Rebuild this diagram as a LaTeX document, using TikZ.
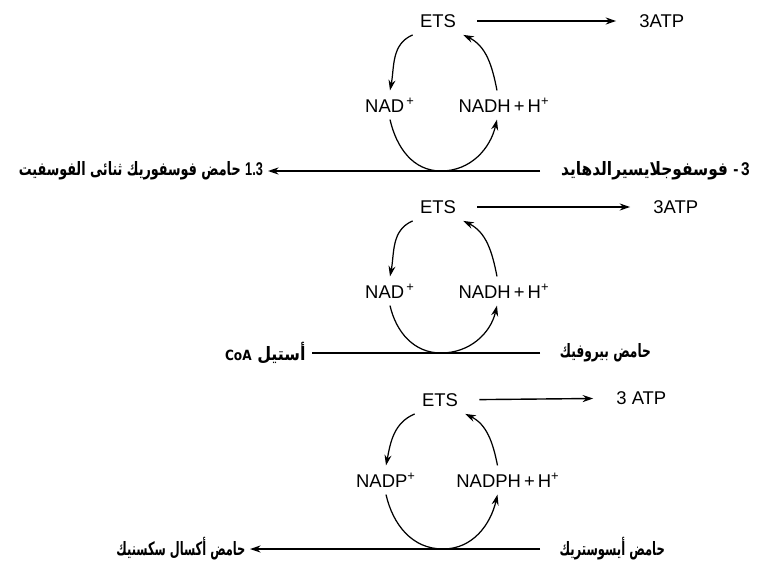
\documentclass[tikz,border=0pt]{standalone}
\usepackage{fontspec}
\setmainfont{Liberation Sans}
\newfontfamily\arabicfont[Script=Arabic]{DejaVu Sans}
\TeXXeTstate=1
\usetikzlibrary{arrows.meta}

\begin{document}
\begin{tikzpicture}[
  x=0.02cm, y=0.02cm,
  >={Stealth[length=6pt,width=4pt]},
  every node/.style={font=\fontsize{10.5}{12}\selectfont},
  lbl/.style={inner sep=4pt},
  ar/.style={font=\arabicfont\bfseries\fontsize{10.5}{12}\selectfont,
             inner sep=4pt, xscale=0.72, transform shape},
  yield/.style={->, line width=0.8pt, shorten <=8pt, shorten >=9pt},
  loop/.style={->, line width=0.7pt},
  base/.style={line width=0.8pt},
]
  \useasboundingbox (0,0) rectangle (759,569);

  % Glyceraldehyde-3-phosphate step
  \node[lbl] (ets1) at (438,548) {ETS};
  \node[lbl, anchor=west] (atp1) at (632,548) {3ATP};
  \node[lbl] (nad1) at (390,464) {NAD\textsuperscript{\,+}};
  \node[lbl] (nadh1) at (504,464) {NADH\,+\,H\textsuperscript{+}};
  \coordinate (b1) at (441,398);
  \coordinate (s1) at (540,398);
  \node[ar, anchor=east, xscale=0.96] (left1) at (268,398)
    {\beginR\beginL{\normalfont\bfseries 1.3}\endL{} حامض فوسفوريك ثنائى الفوسفيت\endR};
  \node[ar, anchor=west, xscale=1.16] (right1) at (555,398)
    {\beginR\beginL{\normalfont\bfseries -\,3}\endL{} فوسفوجلايسيرالدهايد\endR};
  \draw[yield] (ets1) -- (atp1);
  \draw[loop] (ets1.south west) to[out=203,in=79] (nad1.north);
  \draw[loop] ([xshift=-4pt]nadh1.north) to[out=101,in=-26] (ets1.south east);
  \draw[loop] (nad1.south) to[out=-77,in=180] (b1)
    to[out=0,in=-103] ([xshift=-4pt]nadh1.south);
  \draw[base, ->] (s1) -- (left1.east);

  % Pyruvate step
  \node[lbl] (ets2) at (438,362) {ETS};
  \node[lbl, anchor=west] (atp2) at (646,362) {3ATP};
  \node[lbl] (nad2) at (390,278) {NAD\textsuperscript{\,+}};
  \node[lbl] (nadh2) at (504,278) {NADH\,+\,H\textsuperscript{+}};
  \coordinate (b2) at (441,216);
  \coordinate (s2) at (540,216);
  \node[ar, anchor=east, xscale=1.2] (left2) at (312,216)
    {\beginR أستيل \beginL\footnotesize CoA\endL\endR};
  \node[ar, anchor=west, xscale=0.92] (right2) at (555,216)
    {\beginR حامض بيروفيك\endR};
  \draw[yield] (ets2) -- (atp2);
  \draw[loop] (ets2.south west) to[out=203,in=79] (nad2.north);
  \draw[loop] ([xshift=-4pt]nadh2.north) to[out=101,in=-26] (ets2.south east);
  \draw[loop] (nad2.south) to[out=-77,in=180] (b2)
    to[out=0,in=-103] ([xshift=-4pt]nadh2.south);
  \draw[base] (s2) -- (left2.east);

  % Isocitrate step
  \node[lbl] (ets3) at (440,169) {ETS};
  \node[lbl, anchor=west] (atp3) at (609,171) {3 ATP};
  \node[lbl] (nadp3) at (386,89) {NADP\textsuperscript{+}};
  \node[lbl] (nadph3) at (508,89) {NADPH\,+\,H\textsuperscript{+}};
  \coordinate (b3) at (443,20);
  \coordinate (s3) at (540,20);
  \node[ar, anchor=east, xscale=0.86] (left3) at (250,20)
    {\beginR حامض أكسال سكسنيك\endR};
  \node[ar, anchor=west, xscale=0.87] (right3) at (555,20)
    {\beginR حامض أيسوستريك\endR};
  \draw[yield] (ets3) -- (atp3);
  \draw[loop] (ets3.south west) to[out=203,in=79] (nadp3.north);
  \draw[loop] ([xshift=-6pt]nadph3.north) to[out=101,in=-26] (ets3.south east);
  \draw[loop] (nadp3.south) to[out=-77,in=180] (b3)
    to[out=0,in=-103] ([xshift=-6pt]nadph3.south);
  \draw[base, ->] (s3) -- (left3.east);
\end{tikzpicture}
\end{document}
